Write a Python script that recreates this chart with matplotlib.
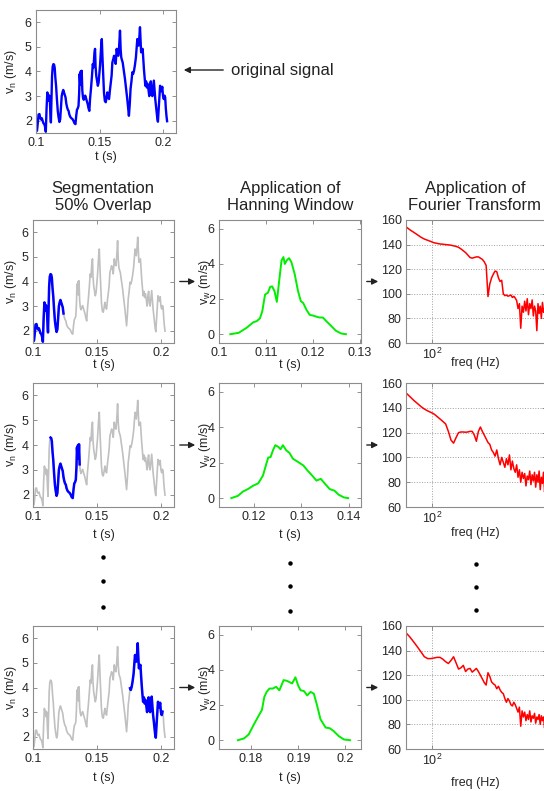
import numpy as np
import matplotlib
matplotlib.use('Agg')
import matplotlib.pyplot as plt
from matplotlib.lines import Line2D
from matplotlib.patches import FancyArrowPatch
from matplotlib.ticker import FormatStrFormatter, NullLocator

plt.rcParams['font.family'] = ['Liberation Sans', 'DejaVu Sans']
plt.rcParams['mathtext.fontset'] = 'custom'
plt.rcParams['mathtext.rm'] = 'Liberation Sans'
plt.rcParams['mathtext.it'] = 'Liberation Sans:italic'

# original velocity signal
sig_t = [0.1000, 0.1008, 0.1014, 0.1020, 0.1027, 0.1034, 0.1040, 0.1046, 0.1052, 0.1058,
         0.1065, 0.1071, 0.1077, 0.1083, 0.1089, 0.1094, 0.1099, 0.1104, 0.1108, 0.1112,
         0.1117, 0.1121, 0.1126, 0.1131, 0.1137, 0.1142, 0.1147, 0.1152, 0.1158, 0.1164,
         0.1171, 0.1177, 0.1184, 0.1190, 0.1196, 0.1202, 0.1208, 0.1214, 0.1220, 0.1226,
         0.1232, 0.1238, 0.1244, 0.1250, 0.1256, 0.1262, 0.1270, 0.1278, 0.1286, 0.1294,
         0.1302, 0.1310, 0.1316, 0.1322, 0.1328, 0.1334, 0.1339, 0.1343, 0.1347, 0.1351,
         0.1355, 0.1359, 0.1364, 0.1369, 0.1375, 0.1381, 0.1387, 0.1394, 0.1400, 0.1406,
         0.1413, 0.1419, 0.1425, 0.1432, 0.1440, 0.1446, 0.1452, 0.1459, 0.1464, 0.1468,
         0.1474, 0.1480, 0.1486, 0.1492, 0.1498, 0.1503, 0.1508, 0.1513, 0.1517, 0.1522,
         0.1528, 0.1534, 0.1541, 0.1548, 0.1555, 0.1561, 0.1567, 0.1574, 0.1580, 0.1587,
         0.1594, 0.1600, 0.1607, 0.1613, 0.1620, 0.1626, 0.1634, 0.1640, 0.1647, 0.1653,
         0.1660, 0.1665, 0.1670, 0.1676, 0.1681, 0.1690, 0.1699, 0.1708, 0.1717, 0.1724,
         0.1730, 0.1737, 0.1743, 0.1750, 0.1757, 0.1763, 0.1770, 0.1777, 0.1785, 0.1791,
         0.1796, 0.1801, 0.1806, 0.1812, 0.1817, 0.1822, 0.1826, 0.1832, 0.1838, 0.1843,
         0.1848, 0.1854, 0.1859, 0.1865, 0.1871, 0.1877, 0.1884, 0.1890, 0.1896, 0.1902,
         0.1908, 0.1914, 0.1920, 0.1926, 0.1932, 0.1937, 0.1943, 0.1948, 0.1953, 0.1958,
         0.1964, 0.1970, 0.1975, 0.1980, 0.1986, 0.1992, 0.1998, 0.2004, 0.2010, 0.2015,
         0.2020, 0.2025, 0.2030]
sig_v = [1.55, 1.60, 1.90, 2.25, 2.27, 2.10, 2.05, 2.10, 2.00, 1.90,
         1.86, 1.75, 1.55, 2.50, 3.15, 2.95, 3.05, 2.80, 3.00, 2.40,
         1.93, 2.80, 3.80, 4.20, 4.30, 4.28, 4.15, 3.75, 3.40, 2.90,
         2.40, 2.15, 1.95, 2.05, 2.50, 3.00, 3.15, 3.25, 3.15, 3.05,
         2.95, 2.70, 2.55, 2.45, 2.40, 2.25, 2.15, 2.10, 2.07, 2.00,
         1.90, 1.86, 2.20, 2.45, 2.50, 2.60, 3.10, 3.90, 3.55, 4.00,
         3.45, 4.03, 3.22, 2.95, 2.85, 2.95, 3.02, 2.90, 2.81, 2.68,
         2.50, 2.40, 2.90, 3.30, 3.83, 4.30, 4.17, 4.75, 4.92, 4.20,
         3.80, 3.60, 3.42, 3.55, 3.90, 4.24, 4.70, 5.10, 5.32, 4.60,
         3.90, 3.15, 2.80, 2.75, 2.95, 3.15, 2.95, 2.88, 3.20, 3.50,
         3.83, 4.37, 4.50, 4.64, 4.57, 4.31, 4.92, 4.70, 4.64, 5.00,
         5.66, 4.90, 4.57, 4.45, 4.37, 4.05, 3.70, 3.30, 2.88, 2.50,
         2.20, 2.70, 3.30, 3.60, 3.97, 3.90, 4.03, 4.25, 4.57, 5.00,
         5.32, 5.10, 5.05, 5.40, 5.80, 5.20, 4.78, 4.85, 4.92, 4.50,
         4.10, 3.70, 3.42, 3.60, 3.35, 3.50, 3.25, 3.00, 3.40, 3.60,
         3.10, 3.00, 3.30, 3.63, 3.20, 2.88, 2.60, 2.34, 2.10, 1.96,
         2.50, 3.00, 3.42, 3.30, 3.20, 3.38, 3.00, 2.88, 3.02, 2.95,
         2.50, 2.20, 1.98]

# segments highlighted in blue (start, end)
segments = [(0.1000, 0.1238), (0.1137, 0.1364), (0.1757, 0.2010)]

# Hanning windowed segments
w1_t = [0.1024, 0.1042, 0.1059, 0.1073, 0.1080, 0.1087, 0.1092, 0.1098, 0.1104, 0.1109,
        0.1113, 0.1118, 0.1123, 0.1128, 0.1133, 0.1137, 0.1140, 0.1144, 0.1149, 0.1154,
        0.1161, 0.1168, 0.1174, 0.1179, 0.1186, 0.1193, 0.1200, 0.1207, 0.1214, 0.1221,
        0.1228, 0.1239, 0.1249, 0.1260, 0.1270]
w1_v = [0.00, 0.08, 0.37, 0.68, 0.74, 0.90, 1.30, 2.26, 2.36, 2.70,
        2.72, 2.46, 1.84, 3.04, 4.20, 4.39, 4.00, 4.20, 4.33, 4.10,
        3.42, 2.46, 1.88, 1.78, 1.39, 1.10, 1.06, 1.00, 0.95, 0.95,
        0.75, 0.46, 0.19, 0.04, 0.00]
w2_t = [0.1152, 0.1166, 0.1177, 0.1187, 0.1198, 0.1209, 0.1219, 0.1226, 0.1230, 0.1235,
        0.1240, 0.1245, 0.1251, 0.1256, 0.1261, 0.1268, 0.1275, 0.1282, 0.1293, 0.1304,
        0.1313, 0.1321, 0.1332, 0.1341, 0.1349, 0.1360, 0.1370, 0.1379, 0.1390, 0.1399]
w2_v = [0.00, 0.13, 0.38, 0.51, 0.70, 0.84, 1.28, 1.94, 2.29, 2.32,
        2.70, 2.99, 2.90, 2.76, 2.99, 2.70, 2.55, 2.23, 2.04, 1.85,
        1.56, 1.33, 0.99, 1.09, 0.84, 0.51, 0.42, 0.19, 0.04, 0.00]
w3_t = [0.1772, 0.1785, 0.1795, 0.1806, 0.1816, 0.1823, 0.1828, 0.1833, 0.1839, 0.1846,
        0.1853, 0.1860, 0.1869, 0.1876, 0.1887, 0.1894, 0.1900, 0.1905, 0.1912, 0.1919,
        0.1926, 0.1933, 0.1940, 0.1947, 0.1958, 0.1967, 0.1975, 0.1986, 0.1997, 0.2010]
w3_v = [0.00, 0.10, 0.33, 0.90, 1.39, 1.72, 2.46, 2.75, 2.94, 2.94,
        3.04, 2.84, 3.42, 3.38, 3.23, 3.58, 3.10, 2.84, 2.80, 2.55,
        2.75, 2.65, 1.97, 1.20, 0.72, 0.68, 0.52, 0.23, 0.04, 0.00]

# spectra (dB) on a 3 Hz grid from 78 Hz
freq = np.arange(78, 301, 3)
sp1 = [154.5, 152, 150, 148, 146, 144.5, 143.5, 142.5, 141.5, 141,
       140.5, 140.3, 140, 139.8, 139.5, 139, 138.5, 137.8, 136.5, 135,
       133.5, 131.5, 129.5, 129, 129.5, 130, 130, 129, 128, 126,
       123, 97.8, 108, 113, 116, 118.5, 118, 113, 110, 111,
       100, 98.5, 99, 98, 98.5, 99, 97, 98, 96.5, 94.5,
       88, 92, 72, 90, 85, 94, 86, 96, 83, 92,
       88, 95, 82, 90, 86, 70, 92, 84, 90, 80,
       93, 85, 88, 81, 86]
sp2 = [152, 149, 146, 143.5, 141, 139, 137.5, 136.3, 135, 133,
       131, 129, 127, 121, 114, 111.5, 116, 120, 120.5, 120.5,
       120.3, 120.5, 121, 121, 118, 113, 121, 124.5, 121, 118,
       115, 112, 110.5, 106, 104, 101, 106, 99, 94, 100,
       96, 92, 99, 94, 102, 90, 97, 91, 88, 94,
       84, 90, 80, 88, 83, 87, 77, 85, 82, 89,
       78, 86, 81, 88, 76, 86, 80, 89, 74, 84,
       79, 88, 72, 85, 80]
sp3 = [154.5, 151, 147, 143, 139, 135, 133.5, 133.5, 134, 134.5,
       134.5, 133, 131, 129.5, 132, 135, 130, 125, 126, 128,
       123, 125, 125.5, 122.5, 124, 125.5, 123, 120, 117, 114,
       112, 122, 119, 114.5, 113, 112, 109, 111, 108, 106,
       105, 101, 98, 101, 99, 96, 95, 98, 96, 93,
       90, 94, 78.5, 91, 86, 90, 83, 88, 84, 91,
       82, 87, 85, 89, 81, 86, 84, 88, 80, 87,
       83, 86, 77, 88, 84]

titles = ['Segmentation\n50% Overlap', 'Application of\nHanning Window',
          'Application of\nFourier Transform']
win_ticks = [[0.1, 0.11, 0.12, 0.13], [0.12, 0.13, 0.14], [0.18, 0.19, 0.2]]
win_xlim = [(0.1, 0.1302), (0.1126, 0.1426), (0.1732, 0.2033)]

W, H = 544, 791
fig = plt.figure(figsize=(W / 100, H / 100), dpi=100)


def box(l, t, r, b):
    return [l / W, 1 - b / H, (r - l) / W, (b - t) / H]


def style(ax):
    ax.tick_params(which='both', direction='in', top=True, right=True, length=3,
                   width=0.6, color='#7f7f7f', labelcolor='#262626', labelsize=9, pad=3)
    for s in ax.spines.values():
        s.set_color('#8c8c8c')
        s.set_linewidth(0.8)


def arrow(x0, x1, y):
    fig.add_artist(FancyArrowPatch((x0 / W, 1 - y / H), (x1 / W, 1 - y / H),
                                   transform=fig.transFigure, arrowstyle='-|>',
                                   mutation_scale=9, color='#222222', lw=1.0))


vlabel = 'v$_\\mathregular{n}$ (m/s)'
wlabel = 'v$_\\mathregular{w}$ (m/s)'

# top: original signal
ax0 = fig.add_axes(box(36, 10, 176, 133))
style(ax0)
ax0.plot(sig_t, sig_v, color='#0000ff', lw=1.7)
ax0.set_xlim(0.1, 0.21)
ax0.set_ylim(1.5, 6.5)
ax0.set_xticks([0.1, 0.15, 0.2])
ax0.set_yticks([2, 3, 4, 5, 6])
ax0.xaxis.set_major_formatter(FormatStrFormatter('%g'))
ax0.set_xlabel('t (s)', fontsize=9, color='#262626')
ax0.xaxis.set_label_coords(0.5, (133 - 151) / 123)
ax0.set_ylabel(vlabel, fontsize=9, color='#262626')
ax0.yaxis.set_label_coords((19 - 36) / 140, 0.5)
arrow(226, 181, 70)
fig.text(231 / W, 1 - 70 / H, 'original signal', fontsize=12, va='center', ha='left',
         color='#222222')

# column titles
for xc, tt in zip([103, 290, 475], titles):
    fig.text(xc / W, 1 - 197 / H, tt, fontsize=12, ha='center', va='center',
             linespacing=1.15, color='#222222')

row_top = [220, 383, 626]
row_bot = [343, 507, 749]
tlab_top = [359, 529, 772]
flab_top = [357, 527, 777]
wins = [(w1_t, w1_v), (w2_t, w2_v), (w3_t, w3_v)]
specs = [sp1, sp2, sp3]
sig_t_arr = np.array(sig_t)
sig_v_arr = np.array(sig_v)

for i in range(3):
    top, bot = row_top[i], row_bot[i]
    hgt = bot - top

    # segmentation column
    a1 = fig.add_axes(box(33, top, 174, bot))
    style(a1)
    a1.plot(sig_t, sig_v, color='#c0c0c0', lw=1.2)
    s0, s1 = segments[i]
    m = (sig_t_arr >= s0) & (sig_t_arr <= s1)
    a1.plot(sig_t_arr[m], sig_v_arr[m], color='#0000ff', lw=1.8)
    a1.set_xlim(0.1, 0.21)
    a1.set_ylim(1.5, 6.5)
    a1.set_xticks([0.1, 0.15, 0.2])
    a1.set_yticks([2, 3, 4, 5, 6])
    a1.xaxis.set_major_formatter(FormatStrFormatter('%g'))
    a1.set_xlabel('t (s)', fontsize=9, color='#262626')
    a1.xaxis.set_label_coords(0.5, (bot - tlab_top[i]) / hgt)
    a1.set_ylabel(vlabel, fontsize=9, color='#262626')
    a1.yaxis.set_label_coords((19 - 33) / 141, 0.5)

    # hanning window column
    a2 = fig.add_axes(box(219, top, 361, bot))
    style(a2)
    a2.plot(wins[i][0], wins[i][1], color='#00ee00', lw=1.4)
    a2.set_xlim(*win_xlim[i])
    a2.set_ylim(-0.5, 6.5)
    a2.set_xticks(win_ticks[i])
    a2.set_yticks([0, 2, 4, 6])
    a2.xaxis.set_major_formatter(FormatStrFormatter('%g'))
    a2.set_xlabel('t (s)', fontsize=9, color='#262626')
    a2.xaxis.set_label_coords(0.5, (bot - tlab_top[i]) / hgt)
    a2.set_ylabel(wlabel, fontsize=9, color='#262626')
    a2.yaxis.set_label_coords((213 - 219) / 142, 0.5)

    # fourier column
    a3 = fig.add_axes(box(406, top, 546, bot))
    style(a3)
    a3.plot(freq, specs[i], color='#ff0000', lw=1.1)
    a3.set_xscale('log')
    a3.set_xlim(78, 298)
    a3.set_ylim(60, 160)
    a3.set_xticks([100])
    a3.set_xticklabels(['$\\mathregular{10^2}$'])
    a3.xaxis.set_minor_locator(NullLocator())
    a3.set_yticks([60, 80, 100, 120, 140, 160])
    a3.grid(True, which='major', ls=':', lw=0.7, color='#a0a0a0')
    a3.set_xlabel('freq (Hz)', fontsize=9, color='#262626')
    a3.xaxis.set_label_coords((475 - 406) / 140, (bot - flab_top[i]) / hgt)

    yc = (top + bot) / 2
    arrow(177, 198, yc)
    arrow(364, 381, yc)

# vertical ellipsis dots between rows
for xc, ys in [(103, [557, 581, 607]), (290, [563, 586, 611]), (476, [564, 587, 610])]:
    fig.add_artist(Line2D([xc / W] * 3, [1 - y / H for y in ys], transform=fig.transFigure,
                          marker='o', ms=2.2, ls='none', color='black'))

fig.savefig('out.png', dpi=100)
